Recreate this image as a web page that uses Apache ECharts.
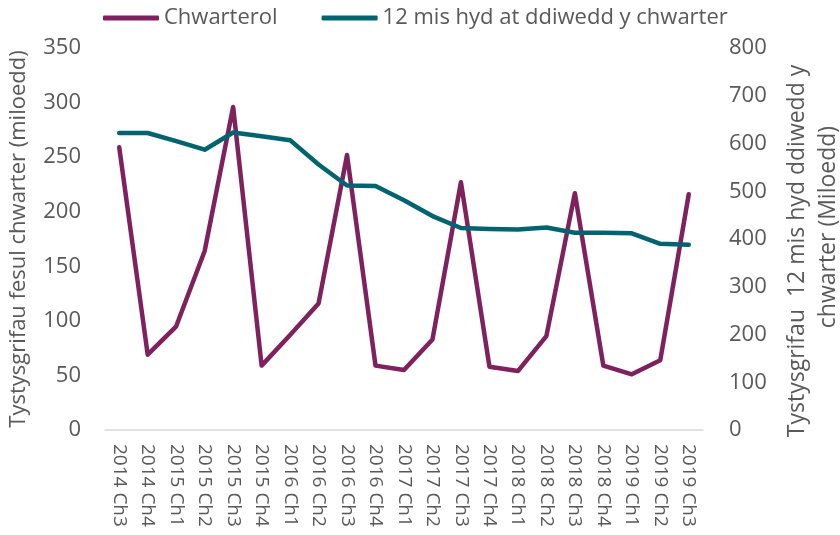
<!DOCTYPE html>
<html>
<head>
<meta charset="utf-8">
<script src="https://cdn.jsdelivr.net/npm/echarts@6/dist/echarts.min.js"></script>
<style>
  html, body { margin: 0; padding: 0; background: #fff; }
  #chart { width: 840px; height: 535px; }
</style>
</head>
<body>
<div id="chart"></div>
<script>
var chwarteri = [
    "2014 Ch3", "2014 Ch4",
    "2015 Ch1", "2015 Ch2", "2015 Ch3", "2015 Ch4",
    "2016 Ch1", "2016 Ch2", "2016 Ch3", "2016 Ch4",
    "2017 Ch1", "2017 Ch2", "2017 Ch3", "2017 Ch4",
    "2018 Ch1", "2018 Ch2", "2018 Ch3", "2018 Ch4",
    "2019 Ch1", "2019 Ch2", "2019 Ch3"
];
// miloedd, fesul chwarter (echel chwith)
var chwarterol = [259, 69, 95, 164, 296, 59, 87, 116, 252, 59, 55, 83, 227, 58, 54, 86, 217, 59, 51, 64, 216];
// 12 mis hyd ddiwedd y chwarter (echel dde)
var deuddegMis = [622, 622, 605, 587, 623, 615, 607, 556, 512, 511, 481, 448, 423, 421, 420, 424, 413, 413, 412, 390, 388];

var ticksChwith = [0, 350, 50];
var ticksDde = [0, 800, 100];

var lliwPorffor = "#80215f";
var lliwGwyrdd = "#006470";
var ffont = "Open Sans";
var llwyd = "#595959";

var myChart = echarts.init(document.getElementById("chart"), null, { renderer: "canvas" });
var option = {
    animation: false,
    textStyle: { fontFamily: ffont },
    legend: {
        top: 2,
        left: 98,
        itemWidth: 56,
        itemHeight: 5,
        itemGap: 44,
        icon: "roundRect",
        textStyle: { fontSize: 22, color: llwyd, fontFamily: ffont },
        data: ["Chwarterol", "12 mis hyd at ddiwedd y chwarter"]
    },
    grid: {
        left: 105,
        right: 137,
        top: 48,
        bottom: 105,
        outerBoundsMode: "none"
    },
    xAxis: {
        type: "category",
        boundaryGap: true,
        data: chwarteri,
        axisLine: { show: true, lineStyle: { color: "#d9d9d9", width: 1.5 } },
        axisTick: { show: false },
        axisLabel: {
            rotate: -90,
            interval: 0,
            margin: 14,
            fontSize: 19,
            color: llwyd,
            fontFamily: ffont
        }
    },
    yAxis: [{
        type: "value",
        min: ticksChwith[0],
        max: ticksChwith[1],
        interval: ticksChwith[2],
        position: "left",
        name: "Tystysgrifau fesul chwarter (miloedd)",
        nameLocation: "middle",
        nameGap: 75,
        nameTextStyle: { fontSize: 22, color: llwyd, fontFamily: ffont },
        axisLine: { show: false },
        axisTick: { show: false },
        splitLine: { show: false },
        axisLabel: { fontSize: 22, color: llwyd, margin: 24, fontFamily: ffont }
    }, {
        type: "value",
        min: ticksDde[0],
        max: ticksDde[1],
        interval: ticksDde[2],
        position: "right",
        // bylchau ar y pennau i symud y llinellau fel yn y llun
        name: "Tystysgrifau  12 mis hyd ddiwedd y    \n    chwarter (Miloedd)",
        nameLocation: "middle",
        nameGap: 110,
        nameRotate: 90,
        nameTextStyle: {
            fontSize: 23, color: llwyd, fontFamily: ffont,
            lineHeight: 31, align: "center", verticalAlign: "middle"
        },
        axisLine: { show: false },
        axisTick: { show: false },
        splitLine: { show: false },
        axisLabel: { fontSize: 22, color: llwyd, margin: 26, fontFamily: ffont }
    }],
    series: [{
        name: "Chwarterol",
        type: "line",
        yAxisIndex: 0,
        data: chwarterol,
        showSymbol: false,
        symbol: "none",
        lineStyle: { color: lliwPorffor, width: 4.5, cap: "round", join: "round" },
        itemStyle: { color: lliwPorffor }
    }, {
        name: "12 mis hyd at ddiwedd y chwarter",
        type: "line",
        yAxisIndex: 1,
        data: deuddegMis,
        showSymbol: false,
        symbol: "none",
        lineStyle: { color: lliwGwyrdd, width: 4.5, cap: "round", join: "round" },
        itemStyle: { color: lliwGwyrdd }
    }]
};
myChart.setOption(option);
</script>
</body>
</html>
